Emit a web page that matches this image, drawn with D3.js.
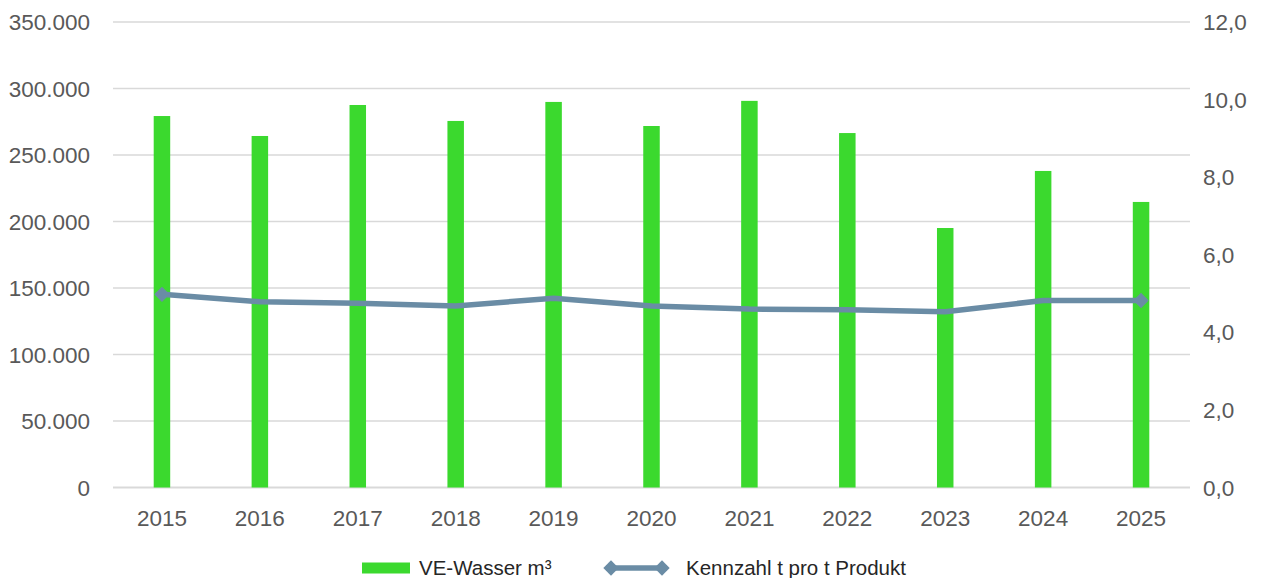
<!DOCTYPE html>
<html>
<head>
<meta charset="utf-8">
<script src="https://cdn.jsdelivr.net/npm/d3@7"></script>
<style>
  body { margin: 0; background: #fff; }
  svg { display: block; font-family: "Liberation Sans", Arial, sans-serif; }
</style>
</head>
<body>
<svg id="chart" width="1268" height="578"></svg>
<script>
// data
const years = ['2015', '2016', '2017', '2018', '2019', '2020', '2021', '2022', '2023', '2024', '2025']
const wasser = [279300, 264300, 287600, 275600, 289900, 271800, 290700, 266500, 195100, 238000, 214700]
const kennzahl = [4.98, 4.79, 4.75, 4.68, 4.88, 4.68, 4.60, 4.58, 4.53, 4.82, 4.82]
const leftTicks = [0, 50000, 100000, 150000, 200000, 250000, 300000, 350000]
const rightTicks = [0, 2, 4, 6, 8, 10, 12]
const seriesNames = ['VE-Wasser m³', 'Kennzahl t pro t Produkt']

const barColor = '#3bd92e'
const lineColor = '#6a8ca5'
const textColor = '#595959'

const svg = d3.select('#chart')
const m = { left: 113, right: 1190, top: 22, bottom: 487.5 }

const x = d3.scaleBand().domain(years).range([m.left, m.right])
const yL = d3.scaleLinear().domain([0, 350000]).range([m.bottom, m.top])
const yR = d3.scaleLinear().domain([0, 12]).range([m.bottom, m.top])

const fmtL = d => d3.format(',')(d).replace(/,/g, '.')
const fmtR = d => d.toFixed(1).replace('.', ',')

// gridlines
svg.append('g')
  .selectAll('line')
  .data(leftTicks)
  .join('line')
  .attr('x1', m.left).attr('x2', m.right)
  .attr('y1', d => yL(d)).attr('y2', d => yL(d))
  .attr('stroke', '#d9d9d9')
  .attr('stroke-width', d => d === 0 ? 2 : 1.5)

// left axis labels
svg.append('g')
  .selectAll('text')
  .data(leftTicks)
  .join('text')
  .attr('x', 90).attr('y', d => yL(d))
  .attr('dy', '0.36em')
  .attr('text-anchor', 'end')
  .attr('font-size', 22.5)
  .attr('fill', textColor)
  .text(fmtL)

// right axis labels
svg.append('g')
  .selectAll('text')
  .data(rightTicks)
  .join('text')
  .attr('x', 1203).attr('y', d => yR(d))
  .attr('dy', '0.36em')
  .attr('text-anchor', 'start')
  .attr('font-size', 22.5)
  .attr('fill', textColor)
  .text(fmtR)

// x labels
svg.append('g')
  .selectAll('text')
  .data(years)
  .join('text')
  .attr('x', d => x(d) + x.bandwidth() / 2)
  .attr('y', 518)
  .attr('dy', '0.36em')
  .attr('text-anchor', 'middle')
  .attr('font-size', 22.5)
  .attr('fill', textColor)
  .text(d => d)

// bars
const barW = 16.5
svg.append('g')
  .selectAll('rect')
  .data(wasser)
  .join('rect')
  .attr('x', (d, i) => x(years[i]) + x.bandwidth() / 2 - barW / 2)
  .attr('y', d => yL(d))
  .attr('width', barW)
  .attr('height', d => yL(0) - yL(d))
  .attr('fill', barColor)

// line
const line = d3.line()
  .x((d, i) => x(years[i]) + x.bandwidth() / 2)
  .y(d => yR(d))

svg.append('path')
  .datum(kennzahl)
  .attr('d', line)
  .attr('fill', 'none')
  .attr('stroke', lineColor)
  .attr('stroke-width', 5.5)
  .attr('stroke-linejoin', 'round')

// diamonds only on first and last point
const diamond = d3.symbol().type(d3.symbolDiamond2).size(150)
const ends = [0, kennzahl.length - 1]
svg.append('g')
  .selectAll('path')
  .data(ends)
  .join('path')
  .attr('d', diamond)
  .attr('transform', i => `translate(${x(years[i]) + x.bandwidth() / 2},${yR(kennzahl[i])})`)
  .attr('fill', lineColor)

// legend
const leg = svg.append('g').attr('font-size', 20.5).attr('fill', '#262626')
leg.append('rect')
  .attr('x', 362).attr('y', 562.5).attr('width', 48).attr('height', 11)
  .attr('fill', barColor)
leg.append('text')
  .attr('x', 419).attr('y', 568).attr('dy', '0.36em')
  .text(seriesNames[0])
leg.append('line')
  .attr('x1', 606).attr('x2', 667).attr('y1', 568).attr('y2', 568)
  .attr('stroke', lineColor).attr('stroke-width', 5.5)
leg.selectAll('path.mk')
  .data([611, 662])
  .join('path')
  .attr('class', 'mk')
  .attr('d', diamond)
  .attr('transform', d => `translate(${d},568)`)
  .attr('fill', lineColor)
leg.append('text')
  .attr('x', 686).attr('y', 568).attr('dy', '0.36em')
  .text(seriesNames[1])
</script>
</body>
</html>
